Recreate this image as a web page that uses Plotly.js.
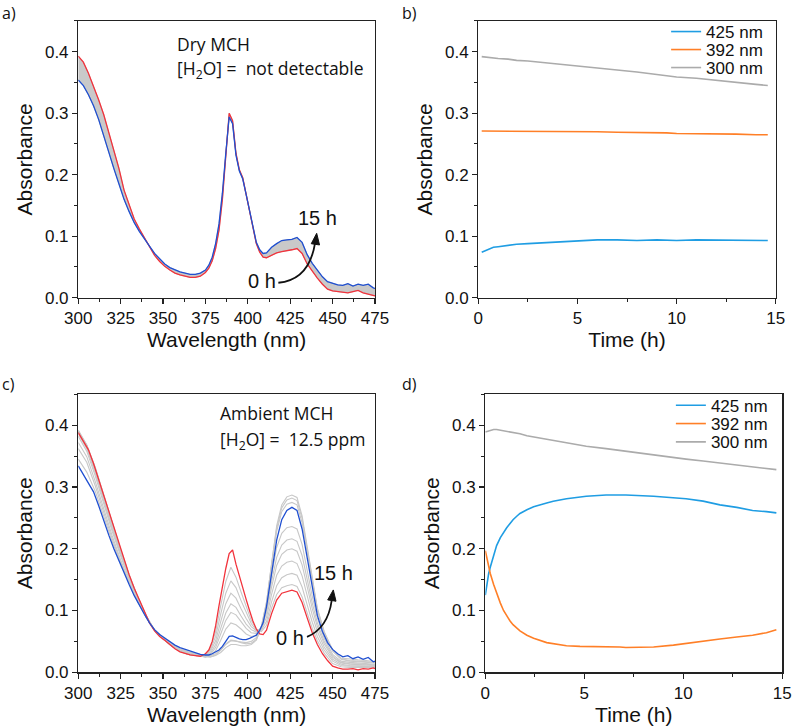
<!DOCTYPE html>
<html>
<head>
<meta charset="utf-8">
<script src="https://cdn.plot.ly/plotly-3.0.1.min.js"></script>
<style>html,body{margin:0;padding:0;background:#fff;}#chart{width:793px;height:726px;}</style>
</head>
<body>
<div id="chart"></div>
<script>
// ---------- Wavelength grids ----------
const wl = [300,303,306,309,312,315,318,321,324,327,330,333,336,339,342,345,348,351,354,357,360,363,366,369,372,
  375,377,379,381,383,385,387,389,391,393,395,397,399,401,403,405,407,409,411,
  414,417,420,423,426,429,432,435,438,441,444,447,450,453,456,459,462,465,468,471,474,475];
const wlGray = [300,305,310,315,320,325,330,335,340,345,350,355,360,365,370,375,378,381,384,387,390,393,396,399,402,405,408,411,414,417,420,423,426,429,432,435,438,441,445,450,455,460,465,470,475];

// ---------- Panel a: dry MCH ----------
const dry0h = [0.393,0.383,0.365,0.345,0.322,0.298,0.268,0.240,0.210,0.175,0.150,0.128,0.112,0.098,0.085,0.069,0.059,0.051,0.045,0.040,0.037,0.035,0.033,0.033,0.035,
  0.041,0.048,0.060,0.080,0.110,0.160,0.230,0.300,0.288,0.235,0.208,0.195,0.168,0.140,0.112,0.088,0.074,0.066,0.065,
  0.069,0.073,0.075,0.076,0.078,0.080,0.072,0.055,0.043,0.032,0.022,0.014,0.011,0.010,0.009,0.008,0.010,0.012,0.008,0.006,0.004,0.003];
const dry15h = [0.354,0.345,0.330,0.312,0.290,0.262,0.235,0.210,0.185,0.160,0.140,0.122,0.108,0.095,0.084,0.072,0.063,0.055,0.049,0.045,0.042,0.040,0.038,0.038,0.040,
  0.045,0.053,0.066,0.088,0.120,0.170,0.235,0.294,0.283,0.232,0.206,0.193,0.168,0.140,0.113,0.090,0.078,0.072,0.073,
  0.082,0.088,0.093,0.094,0.095,0.098,0.090,0.070,0.056,0.045,0.034,0.026,0.023,0.021,0.020,0.023,0.019,0.022,0.020,0.022,0.016,0.015];

// ---------- Panel c: ambient MCH ----------
const amb0h = [0.388,0.375,0.360,0.338,0.312,0.285,0.258,0.232,0.207,0.182,0.158,0.136,0.117,0.098,0.080,0.067,0.058,0.052,0.045,0.038,0.033,0.030,0.028,0.027,0.026,
  0.030,0.036,0.050,0.075,0.108,0.140,0.168,0.192,0.198,0.175,0.155,0.137,0.118,0.100,0.083,0.070,0.062,0.061,0.068,
  0.095,0.117,0.128,0.131,0.133,0.130,0.113,0.088,0.064,0.045,0.030,0.019,0.010,0.007,0.005,0.005,0.006,0.004,0.006,0.005,0.007,0.006];
const amb15h = [0.334,0.320,0.308,0.292,0.270,0.245,0.222,0.200,0.180,0.160,0.142,0.124,0.108,0.094,0.080,0.069,0.061,0.055,0.049,0.044,0.040,0.037,0.034,0.032,0.029,
  0.028,0.028,0.030,0.033,0.036,0.042,0.050,0.058,0.059,0.056,0.054,0.053,0.053,0.055,0.057,0.060,0.068,0.080,0.106,
  0.160,0.214,0.247,0.262,0.267,0.262,0.232,0.185,0.135,0.092,0.066,0.048,0.037,0.030,0.025,0.027,0.022,0.025,0.021,0.024,0.017,0.018];
const ambGray = [
 [0.390,0.368,0.332,0.287,0.242,0.199,0.158,0.123,0.092,0.068,0.054,0.043,0.034,0.029,0.027,0.028,0.040,0.066,0.108,0.147,0.170,0.154,0.130,0.106,0.084,0.070,0.066,0.076,0.104,0.126,0.137,0.140,0.142,0.139,0.122,0.096,0.071,0.051,0.031,0.014,0.009,0.008,0.008,0.008,0.008],
 [0.392,0.368,0.331,0.286,0.241,0.198,0.157,0.122,0.092,0.068,0.054,0.043,0.034,0.029,0.027,0.027,0.037,0.058,0.094,0.128,0.148,0.137,0.116,0.096,0.079,0.068,0.068,0.082,0.114,0.140,0.153,0.158,0.160,0.157,0.138,0.109,0.081,0.058,0.036,0.018,0.011,0.010,0.010,0.010,0.009],
 [0.391,0.367,0.329,0.283,0.238,0.196,0.156,0.121,0.091,0.068,0.054,0.043,0.034,0.029,0.027,0.026,0.034,0.051,0.082,0.111,0.128,0.120,0.103,0.087,0.074,0.067,0.070,0.089,0.126,0.157,0.172,0.178,0.180,0.176,0.156,0.123,0.092,0.066,0.041,0.021,0.013,0.011,0.011,0.011,0.010],
 [0.389,0.365,0.326,0.280,0.235,0.194,0.155,0.120,0.091,0.068,0.054,0.043,0.034,0.029,0.027,0.026,0.031,0.045,0.071,0.096,0.111,0.105,0.091,0.078,0.069,0.065,0.072,0.096,0.138,0.173,0.191,0.198,0.200,0.196,0.174,0.138,0.103,0.074,0.046,0.024,0.015,0.013,0.013,0.012,0.011],
 [0.386,0.362,0.323,0.277,0.232,0.191,0.153,0.119,0.090,0.068,0.054,0.043,0.034,0.029,0.027,0.025,0.029,0.040,0.062,0.084,0.097,0.093,0.082,0.071,0.064,0.063,0.073,0.100,0.147,0.186,0.206,0.214,0.216,0.212,0.189,0.150,0.112,0.080,0.050,0.026,0.016,0.014,0.014,0.013,0.012],
 [0.382,0.358,0.318,0.272,0.228,0.188,0.151,0.118,0.090,0.068,0.054,0.043,0.035,0.030,0.027,0.025,0.027,0.035,0.052,0.070,0.080,0.077,0.070,0.062,0.058,0.060,0.073,0.104,0.157,0.202,0.225,0.234,0.236,0.232,0.207,0.165,0.123,0.088,0.055,0.029,0.018,0.016,0.015,0.014,0.013],
 [0.372,0.349,0.309,0.264,0.221,0.182,0.147,0.116,0.089,0.068,0.055,0.044,0.036,0.031,0.028,0.025,0.025,0.028,0.036,0.046,0.052,0.051,0.048,0.046,0.047,0.053,0.072,0.110,0.172,0.228,0.260,0.272,0.275,0.271,0.242,0.193,0.143,0.100,0.063,0.034,0.021,0.018,0.017,0.016,0.015],
 [0.362,0.340,0.302,0.258,0.216,0.179,0.145,0.115,0.089,0.068,0.056,0.045,0.037,0.032,0.029,0.026,0.025,0.027,0.032,0.040,0.045,0.045,0.043,0.043,0.045,0.052,0.073,0.113,0.178,0.237,0.271,0.284,0.287,0.283,0.253,0.202,0.150,0.104,0.066,0.036,0.022,0.019,0.018,0.017,0.016],
 [0.345,0.324,0.293,0.252,0.212,0.176,0.144,0.114,0.089,0.068,0.056,0.046,0.038,0.033,0.030,0.027,0.027,0.030,0.036,0.045,0.051,0.050,0.048,0.048,0.050,0.056,0.075,0.113,0.176,0.233,0.266,0.279,0.282,0.278,0.249,0.199,0.147,0.102,0.065,0.036,0.023,0.021,0.020,0.019,0.017]
];

// ---------- Panel b: dry MCH kinetics ----------
const timeDry = [0.17,0.5,0.76,1,1.5,1.93,2.5,3.1,3.5,4,4.5,5.1,5.5,6,7,8,9,9.5,10,11,12,13,14,14.6];
const dry425 = [0.074,0.078,0.082,0.083,0.085,0.087,0.088,0.089,0.090,0.091,0.092,0.093,0.094,0.094,0.094,0.093,0.094,0.093,0.093,0.094,0.094,0.093,0.093,0.093];
const dry392 = [0.271,0.271,0.271,0.271,0.271,0.270,0.270,0.270,0.270,0.270,0.270,0.270,0.270,0.270,0.269,0.269,0.268,0.268,0.267,0.267,0.267,0.266,0.265,0.265];
const dry300 = [0.392,0.391,0.389,0.389,0.388,0.386,0.385,0.383,0.382,0.380,0.379,0.377,0.376,0.374,0.370,0.367,0.363,0.361,0.359,0.357,0.354,0.350,0.347,0.345];

// ---------- Panel d: ambient MCH kinetics ----------
const timeAmb = [0,0.1,0.17,0.25,0.42,0.57,0.76,0.92,1.08,1.25,1.4,1.6,1.75,2.1,2.44,3.1,3.43,4.1,4.78,5.1,6.1,6.8,7.1,8.5,9.5,10.14,11,11.85,12.7,13.5,14.2,14.7];
const amb425 = [0.125,0.150,0.160,0.170,0.190,0.205,0.218,0.227,0.234,0.241,0.247,0.253,0.257,0.263,0.268,0.274,0.277,0.281,0.284,0.285,0.287,0.287,0.287,0.285,0.283,0.281,0.277,0.271,0.267,0.262,0.260,0.258];
const amb392 = [0.197,0.180,0.171,0.160,0.142,0.127,0.112,0.100,0.091,0.083,0.077,0.071,0.067,0.060,0.055,0.048,0.046,0.043,0.042,0.042,0.041,0.041,0.040,0.041,0.044,0.047,0.050,0.054,0.057,0.060,0.064,0.069];
const amb300 = [0.389,0.390,0.391,0.392,0.393,0.393,0.392,0.391,0.390,0.389,0.388,0.387,0.386,0.383,0.381,0.377,0.375,0.371,0.367,0.366,0.362,0.359,0.358,0.352,0.347,0.345,0.342,0.339,0.336,0.333,0.330,0.328];

const legendNames = ['425 nm','392 nm','300 nm'];

// ---------- colours & fonts ----------
const RED = '#f2333c', BLUE = '#1f4fd1', GRAYLINE = '#c8c8c8', GRAYFILL = '#c9c9c9';
const C425 = '#1f9de3', C392 = '#ff7f27', C300 = '#ababab';
const AXFONT = '"Liberation Sans", Arial, sans-serif';
const TXTFONT = '"Open Sans", "Noto Sans", sans-serif';

const traces = [];
// Panel a : gray band between 0 h and 15 h
traces.push({x: wl, y: dry15h, xaxis:'x', yaxis:'y', mode:'lines', line:{color:'#b0b0b0', width:0.8}, showlegend:false, hoverinfo:'skip'});
traces.push({x: wl, y: dry0h, xaxis:'x', yaxis:'y', mode:'lines', line:{color:'#b0b0b0', width:0.8}, fill:'tonexty', fillcolor:GRAYFILL, showlegend:false, hoverinfo:'skip'});
traces.push({x: wl, y: dry0h, xaxis:'x', yaxis:'y', mode:'lines', line:{color:RED, width:1.3}, showlegend:false});
traces.push({x: wl, y: dry15h, xaxis:'x', yaxis:'y', mode:'lines', line:{color:BLUE, width:1.3}, showlegend:false});

// Panel c : gray intermediate spectra
ambGray.forEach(g => traces.push({x: wlGray, y: g, xaxis:'x3', yaxis:'y3', mode:'lines', line:{color:GRAYLINE, width:1.1}, showlegend:false}));
traces.push({x: wl, y: amb0h, xaxis:'x3', yaxis:'y3', mode:'lines', line:{color:RED, width:1.3}, showlegend:false});
traces.push({x: wl, y: amb15h, xaxis:'x3', yaxis:'y3', mode:'lines', line:{color:BLUE, width:1.3}, showlegend:false});

// Panel b
[[dry425,C425],[dry392,C392],[dry300,C300]].forEach((s,i) => traces.push({
  x: timeDry, y: s[0], xaxis:'x2', yaxis:'y2', mode:'lines', name: legendNames[i],
  line:{color:s[1], width:1.6}, legend: i===0 ? 'legend' : 'legend'+(i+1)}));
// Panel d
[[amb425,C425],[amb392,C392],[amb300,C300]].forEach((s,i) => traces.push({
  x: timeAmb, y: s[0], xaxis:'x4', yaxis:'y4', mode:'lines', name: legendNames[i],
  line:{color:s[1], width:1.6}, legend: 'legend'+(i+4)}));

function axis(extra){
  return Object.assign({
    showline:true, linecolor:'#222', linewidth:1.3, mirror:true,
    ticks:'outside', ticklen:5, tickwidth:1.2, tickcolor:'#222',
    showgrid:false, zeroline:false, fixedrange:true,
    tickfont:{family:AXFONT, size:17, color:'#111'},
  }, extra);
}
const yCommon = () => axis({range:[0,0.45], tick0:0, dtick:0.1, tickformat:'.1f',
  minor:{ticks:'outside', ticklen:3, tickwidth:1, tickcolor:'#222', dtick:0.05},
  title:{text:'Absorbance', font:{family:AXFONT, size:21, color:'#111'}, standoff:6}});
const xWave = (dom, anchor) => axis({domain:dom, anchor:anchor, range:[300,475], tick0:300, dtick:25,
  minor:{ticks:'outside', ticklen:3, tickwidth:1, tickcolor:'#222', dtick:12.5},
  title:{text:'Wavelength (nm)', font:{family:AXFONT, size:21, color:'#111'}, standoff:5}});
const xTime = (dom, anchor) => axis({domain:dom, anchor:anchor, range:[0,15], tick0:0, dtick:5,
  minor:{ticks:'outside', ticklen:3, tickwidth:1, tickcolor:'#222', dtick:2.5},
  title:{text:'Time (h)', font:{family:AXFONT, size:21, color:'#111'}, standoff:5}});

const topDom = [0.5899, 0.9711], botDom = [0.0740, 0.4569];

function leg(x, y){
  return {x:x, y:y, xanchor:'left', yanchor:'middle', bgcolor:'rgba(0,0,0,0)', borderwidth:0,
    font:{family:AXFONT, size:17, color:'#111'}, itemwidth:30};
}

function txt(text, x, y, size, font, xanchor, yanchor){
  return {text:text, xref:'paper', yref:'paper', x:x, y:y, xanchor:xanchor||'left', yanchor:yanchor||'middle',
    showarrow:false, font:{family:font, size:size, color:'#111'}};
}

const layout = {
  width:793, height:726, margin:{l:0, r:0, t:0, b:0},
  paper_bgcolor:'#fff', plot_bgcolor:'#fff', hovermode:false,
  xaxis: xWave([0.0987,0.4729],'y'),
  yaxis: Object.assign(yCommon(), {domain:topDom, anchor:'x'}),
  xaxis2: xTime([0.6032,0.9782],'y2'),
  yaxis2: Object.assign(yCommon(), {domain:topDom, anchor:'x2'}),
  xaxis3: xWave([0.0987,0.4729],'y3'),
  yaxis3: Object.assign(yCommon(), {domain:botDom, anchor:'x3'}),
  xaxis4: xTime([0.6120,0.9865],'y4'),
  yaxis4: Object.assign(yCommon(), {domain:botDom, anchor:'x4'}),
  legend: leg(0.840, 1-32/726),
  legend2: leg(0.840, 1-50/726),
  legend3: leg(0.840, 1-68/726),
  legend4: leg(0.846, 1-405.7/726),
  legend5: leg(0.846, 1-424/726),
  legend6: leg(0.846, 1-442.3/726),
  shapes: [
    {type:'path', xref:'x', yref:'y', path:'M 418,0.0244 Q 436.1,0.0288 439.6,0.0885', line:{color:'#111', width:1.8}},
    {type:'path', xref:'x', yref:'y', path:'M 440.6,0.1047 L 437.4,0.0878 L 442.3,0.0858 Z', line:{color:'#111', width:1}, fillcolor:'#111'},
    {type:'path', xref:'x3', yref:'y3', path:'M 434.9,0.0572 Q 447.3,0.0717 449.5,0.117', line:{color:'#111', width:1.8}},
    {type:'path', xref:'x3', yref:'y3', path:'M 450.4,0.1333 L 447.1,0.1172 L 452.0,0.1150 Z', line:{color:'#111', width:1}, fillcolor:'#111'}
  ],
  annotations: [
    txt('a)', 0, 1, 16, TXTFONT, 'left', 'top'),
    txt('b)', 400/793, 1, 16, TXTFONT, 'left', 'top'),
    txt('c)', 0, 1-371/726, 16, TXTFONT, 'left', 'top'),
    txt('d)', 400/793, 1-371/726, 16, TXTFONT, 'left', 'top'),
    txt('Dry MCH', 175/793, 1-44/726, 17.5, TXTFONT),
    txt('[H<sub>2</sub>O] =&nbsp; not detectable', 175/793, 1-70/726, 17.5, TXTFONT),
    txt('Ambient MCH', 218.3/793, 1-413.3/726, 17.5, TXTFONT),
    txt('[H<sub>2</sub>O] =&nbsp; 12.5 ppm', 218.3/793, 1-440/726, 17.5, TXTFONT),
    txt('15 h', 317/793, 1-218/726, 20, AXFONT, 'center'),
    txt('0 h', 262/793, 1-281/726, 20, AXFONT, 'center'),
    txt('15 h', 333/793, 1-573/726, 20, AXFONT, 'center'),
    txt('0 h', 290/793, 1-638/726, 20, AXFONT, 'center')
  ]
};

Plotly.newPlot('chart', traces, layout, {staticPlot:true, displayModeBar:false});
</script>
</body>
</html>
